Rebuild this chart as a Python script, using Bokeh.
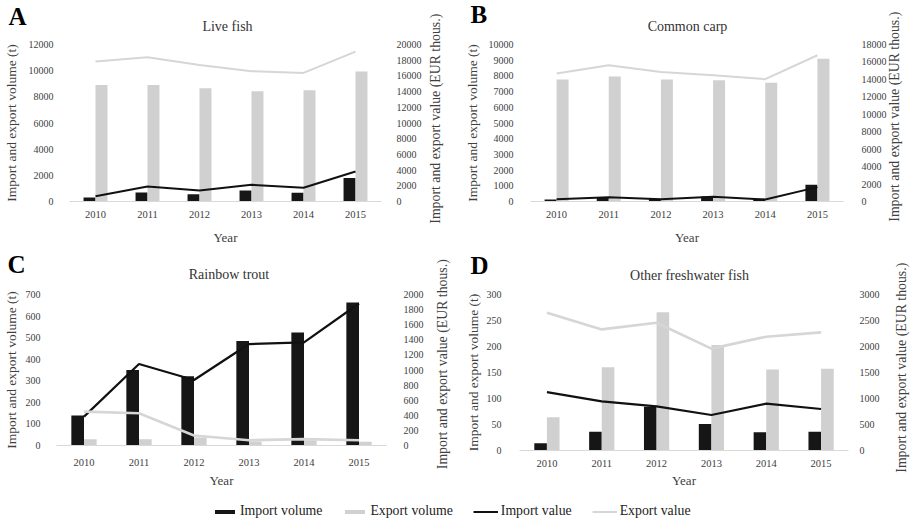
import math
from bokeh.plotting import figure
from bokeh.models import (FactorRange, Range1d, LinearAxis, FixedTicker, Label,
                          Legend, LegendItem, ColumnDataSource)
from bokeh.layouts import column, row
from bokeh.transform import dodge
from bokeh.embed import file_html
from bokeh.resources import INLINE

# ---------------- data ----------------
years = ["2010", "2011", "2012", "2013", "2014", "2015"]

live_import_volume = [300, 680, 560, 840, 660, 1790]
live_export_volume = [8910, 8910, 8650, 8430, 8500, 9930]
live_import_value = [680, 1910, 1400, 2130, 1750, 3830]
live_export_value = [17830, 18380, 17400, 16600, 16380, 19100]

carp_import_volume = [120, 280, 170, 320, 170, 1060]
carp_export_volume = [7770, 7960, 7770, 7720, 7570, 9100]
carp_import_value = [270, 500, 270, 540, 230, 1650]
carp_export_value = [14670, 15630, 14860, 14480, 14020, 16770]

trout_import_volume = [139, 350, 321, 484, 524, 663]
trout_export_volume = [29, 29, 37, 19, 23, 17]
trout_import_value = [383, 1079, 868, 1344, 1366, 1881]
trout_export_value = [449, 427, 132, 70, 84, 70]

other_import_volume = [14, 36, 84, 51, 35, 36]
other_export_volume = [64, 160, 266, 203, 156, 157]
other_import_value = [1123, 944, 849, 683, 900, 798]
other_export_value = [2648, 2329, 2457, 1959, 2189, 2272]

panel_letters = ["A", "B", "C", "D"]
panel_titles = ["Live fish", "Common carp", "Rainbow trout", "Other freshwater fish"]
volume_ticks = [list(range(0, 12001, 2000)), list(range(0, 10001, 1000)),
                list(range(0, 701, 100)), list(range(0, 301, 50))]
value_ticks = [list(range(0, 20001, 2000)), list(range(0, 18001, 2000)),
               list(range(0, 2001, 200)), list(range(0, 3001, 500))]
series_names = ["Import volume", "Export volume", "Import value", "Export value"]
x_title = "Year"
left_title = "Import and export volume (t)"
right_title = "Import and export value  (EUR thous.)"

series = [
    (live_import_volume, live_export_volume, live_import_value, live_export_value),
    (carp_import_volume, carp_export_volume, carp_import_value, carp_export_value),
    (trout_import_volume, trout_export_volume, trout_import_value, trout_export_value),
    (other_import_volume, other_export_volume, other_import_value, other_export_value),
]

# ---------------- styles / layout ----------------
FONT = "Liberation Serif"
TXT = "#404040"
IMP = "#161616"
EXP = "#d0d0d0"
EXP_LINE = "#d6d6d6"

layout_cfg = [
    dict(w=455, h=250, left=68, right=74, top=44, bottom=49,
         ls=(10, 7), rs=9, rt=(11, 6), xs=(3, 9), letter=28, title=(158, -9), lw=(2, 2)),
    dict(w=455, h=250, left=75, right=67, top=44, bottom=49,
         ls=(11, 6), rs=12, rt=(5, 8), xs=(3, 9), letter=30, title=(157, -9), lw=(2, 2)),
    dict(w=455, h=240, left=56, right=69, top=44, bottom=44,
         ls=(10, 4), rs=11, rt=(16, 7), xs=(7, 4), letter=30, title=(172.5, -7), lw=(2.2, 2.6)),
    dict(w=455, h=240, left=64, right=62, top=44, bottom=39,
         ls=(12, 3), rs=5, rt=(19, 6), xs=(3, 3), letter=29, title=(170, -8), lw=(2.2, 2.6)),
]
letter_x = [7, 15, 7, 15]


def style_axis(ax, font_size="10px"):
    ax.axis_line_color = None
    ax.major_tick_line_color = None
    ax.minor_tick_line_color = None
    ax.major_label_text_font = FONT
    ax.major_label_text_font_size = font_size
    ax.major_label_text_color = TXT
    ax.axis_label_text_font = FONT
    ax.axis_label_text_font_size = "13.5px"
    ax.axis_label_text_font_style = "normal"
    ax.axis_label_text_color = TXT


def make_panel(i):
    cfg = layout_cfg[i]
    imp_vol, exp_vol, imp_val, exp_val = series[i]
    src = ColumnDataSource(dict(year=years, imp_vol=imp_vol, exp_vol=exp_vol,
                                imp_val=imp_val, exp_val=exp_val))
    vmax = volume_ticks[i][-1]
    p = figure(x_range=FactorRange(*years),
               y_range=Range1d(0, vmax), title=None,
               width=cfg["w"], height=cfg["h"],
               output_backend="svg", toolbar_location=None,
               min_border_left=cfg["left"], min_border_right=cfg["right"],
               min_border_top=cfg["top"], min_border_bottom=cfg["bottom"])
    try:
        p.frame_align = False
    except Exception:
        pass
    p.extra_y_ranges = {"value": Range1d(0, value_ticks[i][-1])}
    p.outline_line_color = None
    p.background_fill_color = None
    p.border_fill_color = None
    p.xgrid.grid_line_color = None
    p.ygrid.grid_line_color = None

    p.vbar(x=dodge("year", -0.115, range=p.x_range), top="imp_vol", width=0.23,
           source=src, fill_color=IMP, line_color=None)
    p.vbar(x=dodge("year", 0.115, range=p.x_range), top="exp_vol", width=0.23,
           source=src, fill_color=EXP, line_color=None)
    p.line(x="year", y="imp_val", y_range_name="value", source=src,
           line_color="#111111", line_width=cfg["lw"][0])
    p.line(x="year", y="exp_val", y_range_name="value", source=src,
           line_color=EXP_LINE, line_width=cfg["lw"][1])

    yl = p.yaxis[0]
    yl.ticker = FixedTicker(ticks=volume_ticks[i])
    yl.axis_label = left_title
    style_axis(yl)
    yl.major_label_standoff = cfg["ls"][0]
    yl.axis_label_standoff = cfg["ls"][1]

    yr = LinearAxis(y_range_name="value", ticker=FixedTicker(ticks=value_ticks[i]))
    style_axis(yr)
    yr.major_label_standoff = cfg["rs"]
    p.add_layout(yr, "right")

    fh = cfg["h"] - cfg["top"] - cfg["bottom"]
    rx, ry = cfg["rt"]
    # right-hand axis title (reads bottom to top), in its own side panel
    p.add_layout(Label(x=rx, y=fh / 2 + ry, x_units="screen", y_units="screen",
                       text=right_title, angle=math.pi / 2, text_font=FONT,
                       text_font_size="13.8px", text_color=TXT,
                       text_align="center", text_baseline="middle"), "right")

    xa = p.xaxis[0]
    xa.axis_label = x_title
    style_axis(xa, "10.5px")
    xa.axis_line_color = "#d9d9d9"
    xa.axis_line_width = 1
    xa.axis_label_text_font_size = "13px"
    xa.major_label_standoff = cfg["xs"][0]
    xa.axis_label_standoff = cfg["xs"][1]

    # panel letter (inner top panel) and chart title (outer top panel)
    p.add_layout(Label(x=letter_x[i] - cfg["left"], y=cfg["letter"],
                       x_units="screen", y_units="screen",
                       text=panel_letters[i], text_font=FONT, text_font_size="25px",
                       text_font_style="bold", text_color="#000000",
                       text_baseline="alphabetic", text_align="left"), "above")
    tx, ty = cfg["title"]
    p.add_layout(Label(x=tx, y=ty, x_units="screen", y_units="screen",
                       text=panel_titles[i], text_font=FONT, text_font_size="14px",
                       text_color="#333333", text_baseline="alphabetic",
                       text_align="center"), "above")
    return p


panels = [make_panel(i) for i in range(4)]

# ---------------- legend strip ----------------
lsrc = ColumnDataSource(dict(year=years, imp_vol=live_import_volume, exp_vol=live_export_volume,
                             imp_val=live_import_value, exp_val=live_export_value))
lg = figure(width=910, height=29, x_range=FactorRange(*years), y_range=Range1d(-2, -1),
            output_backend="svg", toolbar_location=None, title=None,
            min_border_left=0, min_border_right=0, min_border_top=0, min_border_bottom=0)
try:
    lg.frame_align = False
except Exception:
    pass
lg.axis.visible = False
lg.grid.visible = False
lg.outline_line_color = None
lg.background_fill_color = None
lg.border_fill_color = None
r1 = lg.vbar(x="year", top="imp_vol", width=0.2, source=lsrc, fill_color=IMP, line_color=None)
r2 = lg.vbar(x="year", top="exp_vol", width=0.2, source=lsrc, fill_color=EXP, line_color=None)
r3 = lg.line(x="year", y="imp_val", source=lsrc, line_color="#111111", line_width=2)
r4 = lg.line(x="year", y="exp_val", source=lsrc, line_color=EXP_LINE, line_width=2)
for r in (r1, r2, r3, r4):
    r.visible = False
legend = Legend(items=[LegendItem(label=series_names[0], renderers=[r1]),
                       LegendItem(label=series_names[1], renderers=[r2]),
                       LegendItem(label=series_names[2], renderers=[r3]),
                       LegendItem(label=series_names[3], renderers=[r4])],
                orientation="horizontal", location=(212, 0),
                glyph_width=25, glyph_height=5, label_height=5,
                label_standoff=3, spacing=20, padding=0, margin=0,
                label_text_font=FONT, label_text_font_size="13.8px",
                label_text_color="#222222", inactive_fill_alpha=0,
                background_fill_alpha=0, border_line_alpha=0)
lg.add_layout(legend, "center")

page = column(row(panels[0], panels[1]), row(panels[2], panels[3]), lg)

with open("out.html", "w") as f:
    f.write(file_html(page, INLINE))
